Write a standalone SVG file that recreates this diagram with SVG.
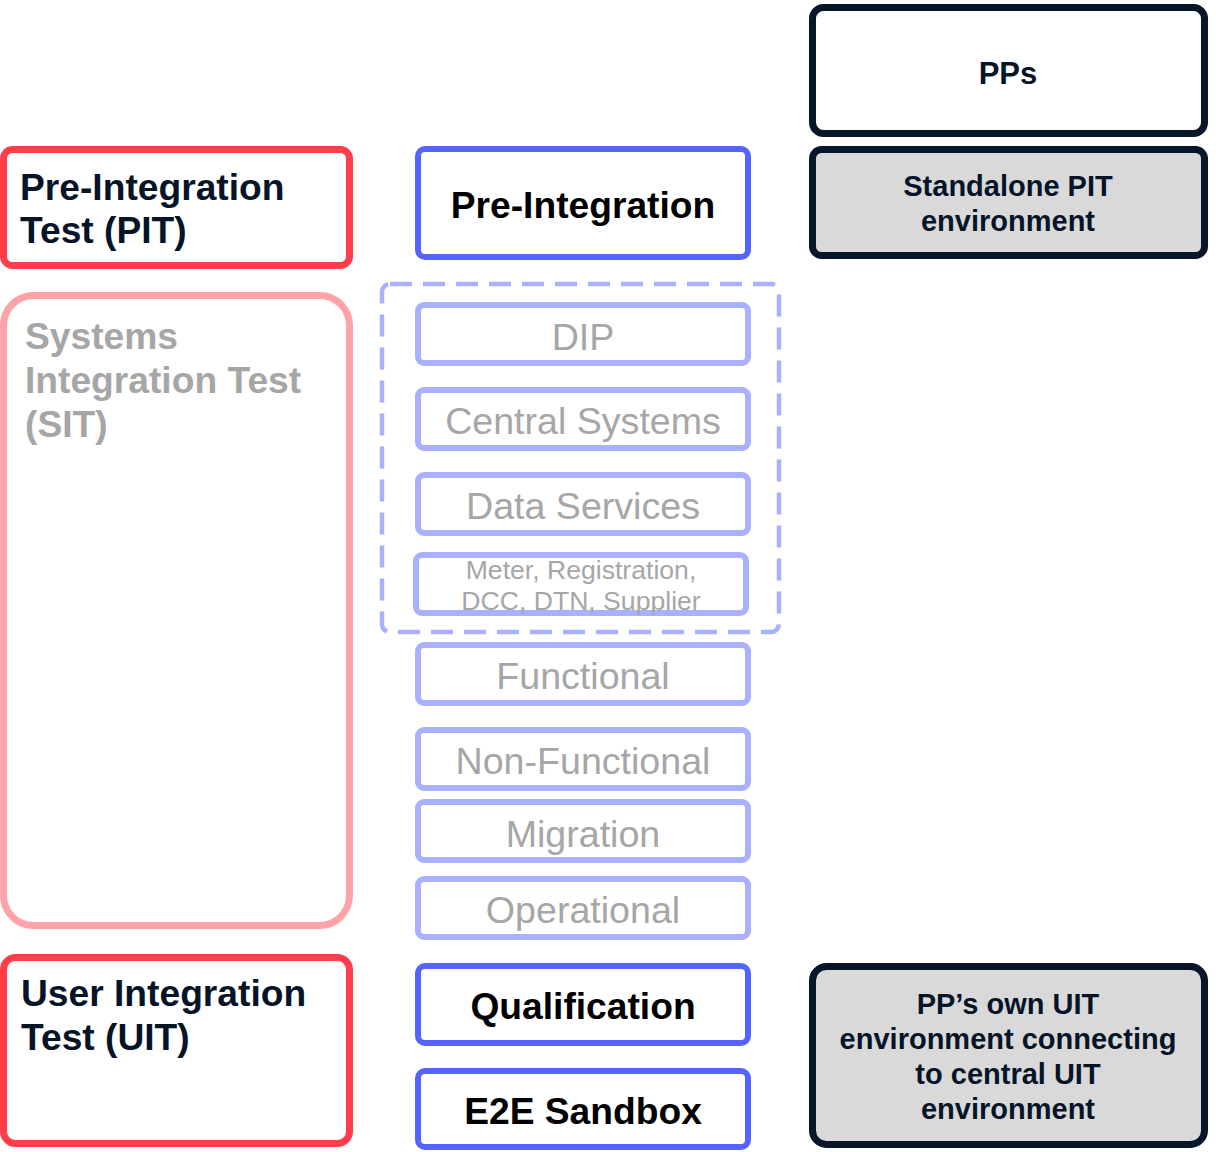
<svg xmlns="http://www.w3.org/2000/svg" width="1216" height="1152" viewBox="0 0 1216 1152">
<style>
.red{fill:#fff;stroke:#FF3D4B;stroke-width:7}
.pink{fill:#fff;stroke:#FFA3A8;stroke-width:7}
.blue{fill:#fff;stroke:#5563FF;stroke-width:6}
.lblue{fill:#fff;stroke:#A8B0FF;stroke-width:6}
.dark{fill:#fff;stroke:#071628;stroke-width:7}
.darkg{fill:#D9D9D9;stroke:#071628;stroke-width:7}
.dash{fill:none;stroke:#A8B0FF;stroke-width:4.5;stroke-dasharray:22 11}
text{font-family:"Liberation Sans",Arial,sans-serif}
.hb{font-size:37.2px;font-weight:bold;fill:#061428}
.hg{font-size:37.2px;font-weight:bold;fill:#A6A6A6}
.mb{font-size:37.2px;font-weight:bold;fill:#000;text-anchor:middle}
.mg{font-size:37.6px;fill:#A6A6A6;text-anchor:middle}
.sg{font-size:26.6px;fill:#A6A6A6;text-anchor:middle}
.rb{font-size:29px;font-weight:bold;fill:#061428;text-anchor:middle}
</style>
<g id="pit"><rect class="red" x="3.5" y="149.5" width="346" height="116" rx="9"/>
<text class="hb" x="20" y="200">Pre-Integration</text><text class="hb" x="20" y="243">Test (PIT)</text></g>
<g id="sit"><rect class="pink" x="3.5" y="295.5" width="346" height="630" rx="30"/>
<text class="hg" x="25" y="349">Systems</text><text class="hg" x="25" y="393">Integration Test</text><text class="hg" x="25" y="437">(SIT)</text></g>
<g id="uit"><rect class="red" x="3.5" y="957.5" width="346" height="186" rx="12"/>
<text class="hb" x="21" y="1006">User Integration</text><text class="hb" x="21" y="1050">Test (UIT)</text></g>
<g id="sit-group"><rect class="dash" x="382" y="284" width="397" height="348" rx="8"/></g>
<g id="preint"><rect class="blue" x="418" y="149" width="330" height="108" rx="7"/><text class="mb" x="583" y="218">Pre-Integration</text></g>
<g id="dip"><rect class="lblue" x="418" y="305" width="330" height="58" rx="6"/><text class="mg" x="583" y="350">DIP</text></g>
<g id="central"><rect class="lblue" x="418" y="390" width="330" height="58" rx="6"/><text class="mg" x="583" y="434">Central Systems</text></g>
<g id="data"><rect class="lblue" x="418" y="475" width="330" height="58" rx="6"/><text class="mg" x="583" y="519">Data Services</text></g>
<g id="meter"><rect class="lblue" x="416" y="555" width="330" height="58" rx="6"/><text class="sg" x="581" y="579">Meter, Registration,</text><text class="sg" x="581" y="610">DCC, DTN, Supplier</text></g>
<g id="functional"><rect class="lblue" x="418" y="645" width="330" height="58" rx="6"/><text class="mg" x="583" y="689">Functional</text></g>
<g id="nonfunctional"><rect class="lblue" x="418" y="730" width="330" height="58" rx="6"/><text class="mg" x="583" y="774">Non-Functional</text></g>
<g id="migration"><rect class="lblue" x="418" y="802" width="330" height="58" rx="6"/><text class="mg" x="583" y="847">Migration</text></g>
<g id="operational"><rect class="lblue" x="418" y="879" width="330" height="58" rx="6"/><text class="mg" x="583" y="923">Operational</text></g>
<g id="qualification"><rect class="blue" x="418" y="966" width="330" height="77" rx="7"/><text class="mb" x="583" y="1019">Qualification</text></g>
<g id="e2e"><rect class="blue" x="418" y="1071" width="330" height="76" rx="7"/><text class="mb" x="583" y="1124">E2E Sandbox</text></g>
<g id="pps"><rect class="dark" x="812.5" y="7.5" width="392" height="126" rx="11"/><text class="rb" x="1008" y="84" style="font-size:31px">PPs</text></g>
<g id="standalone"><rect class="darkg" x="812.5" y="149.5" width="392" height="106" rx="9"/><text class="rb" x="1008" y="196">Standalone PIT</text><text class="rb" x="1008" y="231">environment</text></g>
<g id="ppuit"><rect class="darkg" x="812.5" y="966.5" width="392" height="178" rx="14"/><text class="rb" x="1008" y="1014">PP’s own UIT</text><text class="rb" x="1008" y="1049">environment connecting</text><text class="rb" x="1008" y="1084">to central UIT</text><text class="rb" x="1008" y="1119">environment</text></g>
<g id="connectors"></g>
</svg>
